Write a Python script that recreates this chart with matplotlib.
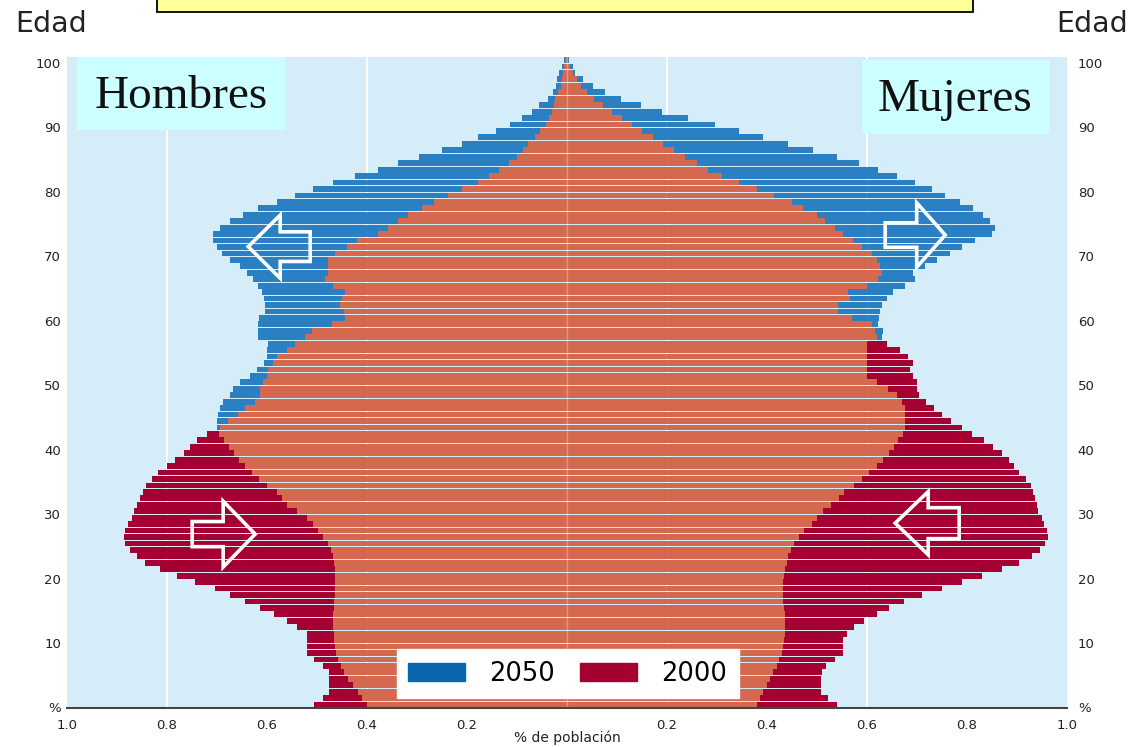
import numpy as np
import matplotlib
matplotlib.use('Agg')
import matplotlib.pyplot as plt
from matplotlib.patches import Rectangle, Polygon, Patch

# edades 0..100, % de poblacion por cada año de edad
edades = np.arange(0, 101)

hombres_2000 = [
    0.505, 0.487, 0.475, 0.475, 0.475, 0.475, 0.487, 0.505, 0.52, 0.52,
    0.52, 0.52, 0.54, 0.559, 0.586, 0.613, 0.643, 0.673, 0.703, 0.743,
    0.78, 0.813, 0.843, 0.86, 0.873, 0.883, 0.885, 0.883, 0.877, 0.87,
    0.865, 0.86, 0.853, 0.847, 0.841, 0.83, 0.817, 0.80, 0.783, 0.765,
    0.753, 0.74, 0.72, 0.693, 0.677, 0.657, 0.643, 0.623, 0.613, 0.613,
    0.607, 0.60, 0.597, 0.587, 0.58, 0.56, 0.543, 0.523, 0.51, 0.47,
    0.443, 0.445, 0.453, 0.45, 0.443, 0.467, 0.483, 0.477, 0.477, 0.477,
    0.463, 0.44, 0.42, 0.377, 0.357, 0.337, 0.317, 0.29, 0.265, 0.237,
    0.21, 0.178, 0.155, 0.135, 0.115, 0.10, 0.087, 0.078, 0.063, 0.053,
    0.042, 0.035, 0.03, 0.025, 0.023, 0.017, 0.012, 0.01, 0.007, 0.005,
    0.003,
]
hombres_2050 = [
    0.40, 0.41, 0.418, 0.428, 0.437, 0.445, 0.452, 0.457, 0.462, 0.464,
    0.465, 0.466, 0.467, 0.467, 0.467, 0.466, 0.465, 0.464, 0.463, 0.463,
    0.463, 0.463, 0.465, 0.467, 0.472, 0.477, 0.487, 0.497, 0.507, 0.52,
    0.54, 0.56, 0.57, 0.58, 0.60, 0.615, 0.63, 0.643, 0.655, 0.665,
    0.675, 0.685, 0.695, 0.70, 0.70, 0.697, 0.693, 0.687, 0.673, 0.667,
    0.653, 0.633, 0.62, 0.605, 0.60, 0.60, 0.597, 0.617, 0.617, 0.617,
    0.615, 0.603, 0.603, 0.605, 0.61, 0.617, 0.627, 0.64, 0.653, 0.673,
    0.69, 0.70, 0.707, 0.707, 0.693, 0.673, 0.648, 0.617, 0.58, 0.543,
    0.507, 0.467, 0.423, 0.377, 0.337, 0.295, 0.25, 0.21, 0.177, 0.142,
    0.113, 0.09, 0.07, 0.055, 0.038, 0.027, 0.021, 0.02, 0.015, 0.01,
    0.005,
]
mujeres_2000 = [
    0.54, 0.523, 0.508, 0.508, 0.508, 0.51, 0.519, 0.537, 0.552, 0.552,
    0.553, 0.56, 0.575, 0.595, 0.62, 0.645, 0.675, 0.71, 0.75, 0.79,
    0.83, 0.87, 0.905, 0.93, 0.947, 0.957, 0.963, 0.96, 0.955, 0.95,
    0.943, 0.94, 0.937, 0.933, 0.928, 0.918, 0.905, 0.895, 0.885, 0.87,
    0.852, 0.835, 0.81, 0.79, 0.768, 0.75, 0.735, 0.718, 0.705, 0.70,
    0.70, 0.693, 0.687, 0.693, 0.683, 0.667, 0.64, 0.62, 0.617, 0.61,
    0.57, 0.543, 0.543, 0.567, 0.563, 0.60, 0.623, 0.63, 0.627, 0.62,
    0.61, 0.59, 0.573, 0.553, 0.537, 0.517, 0.50, 0.473, 0.45, 0.415,
    0.38, 0.345, 0.31, 0.283, 0.26, 0.237, 0.215, 0.193, 0.172, 0.15,
    0.13, 0.11, 0.09, 0.072, 0.055, 0.04, 0.028, 0.02, 0.012, 0.006,
    0.003,
]
mujeres_2050 = [
    0.38, 0.387, 0.393, 0.40, 0.407, 0.413, 0.42, 0.425, 0.43, 0.433,
    0.435, 0.437, 0.437, 0.437, 0.436, 0.434, 0.433, 0.433, 0.433, 0.433,
    0.434, 0.436, 0.44, 0.443, 0.448, 0.455, 0.465, 0.475, 0.49, 0.50,
    0.513, 0.528, 0.545, 0.555, 0.575, 0.59, 0.605, 0.62, 0.633, 0.645,
    0.655, 0.663, 0.673, 0.677, 0.677, 0.677, 0.677, 0.67, 0.66, 0.643,
    0.62, 0.60, 0.60, 0.60, 0.60, 0.60, 0.60, 0.63, 0.633, 0.623,
    0.625, 0.627, 0.63, 0.64, 0.653, 0.677, 0.697, 0.693, 0.717, 0.74,
    0.767, 0.79, 0.817, 0.85, 0.857, 0.847, 0.833, 0.812, 0.787, 0.757,
    0.73, 0.697, 0.66, 0.623, 0.585, 0.54, 0.492, 0.443, 0.393, 0.345,
    0.297, 0.243, 0.19, 0.148, 0.108, 0.077, 0.052, 0.032, 0.017, 0.012,
    0.005,
]

etiquetas_x = ['1.0', '0.8', '0.6', '0.4', '0.2', '', '0.2', '0.4', '0.6', '0.8', '1.0']
etiquetas_y = ['%', '10', '20', '30', '40', '50', '60', '70', '80', '90', '100']

AZUL = '#2a80c3'
ROJO = '#a50032'
SALMON = '#d4694f'
FONDO = '#d4edf9'

W, H = 1132, 747
fig = plt.figure(figsize=(W / 100, H / 100), dpi=100)
fig.patch.set_facecolor('white')
ax = fig.add_axes([66.7 / W, 39.5 / H, 1000 / W, 651 / H])
ax.set_facecolor(FONDO)


def px(x, y):
    # pixeles de la imagen -> fraccion de figura
    return x / W, (H - y) / H


# lineas guia blancas
for xg in [-0.8, -0.4, 0.2, 0.6]:
    ax.axvline(xg, color='white', lw=1.4, zorder=0.5)

h2000 = np.array(hombres_2000)
h2050 = np.array(hombres_2050)
m2000 = np.array(mujeres_2000)
m2050 = np.array(mujeres_2050)

alto = 0.9
# 2000 debajo, 2050 encima, y la parte comun en salmon
ax.barh(edades, -h2000, height=alto, align='edge', color=ROJO, zorder=2)
ax.barh(edades, m2000, height=alto, align='edge', color=ROJO, zorder=2)
ax.barh(edades, -h2050, height=alto, align='edge', color=AZUL, zorder=3)
ax.barh(edades, m2050, height=alto, align='edge', color=AZUL, zorder=3)
ax.barh(edades, -np.minimum(h2000, h2050), height=alto, align='edge', color=SALMON, zorder=4)
ax.barh(edades, np.minimum(m2000, m2050), height=alto, align='edge', color=SALMON, zorder=4)
ax.axvline(0, color='white', lw=1, alpha=0.3, zorder=4.5)

ax.set_xlim(-1, 1)
ax.set_ylim(0, 101)
for s in ['top', 'left', 'right']:
    ax.spines[s].set_visible(False)
ax.spines['bottom'].set_color('#444444')
ax.spines['bottom'].set_linewidth(1.5)
ax.spines['bottom'].set_zorder(6)

ax.set_xticks(np.linspace(-1, 1, 11))
ax.set_xticklabels(etiquetas_x)
ax.set_yticks(np.arange(0, 101, 10))
ax.set_yticklabels(etiquetas_y)
ax.tick_params(axis='both', length=0, labelsize=9.5, labelcolor='#222222')
ax.tick_params(axis='x', pad=8)
ax.tick_params(axis='y', pad=4)

ax2 = ax.twinx()
ax2.set_ylim(ax.get_ylim())
ax2.set_yticks(np.arange(0, 101, 10))
ax2.set_yticklabels(etiquetas_y)
ax2.tick_params(axis='y', length=0, labelsize=9.5, labelcolor='#222222', pad=8)
for s in ax2.spines.values():
    s.set_visible(False)

fig.text(*px(567, 738), '% de población', ha='center', va='center',
         fontsize=10, color='#222222')

# flechas huecas
def flecha(xt, yc, d, hl, sl, hh, sh):
    xb = xt - d * hl
    xs = xb - d * sl
    pts = [(xt, yc), (xb, yc + hh), (xb, yc + sh), (xs, yc + sh),
           (xs, yc - sh), (xb, yc - sh), (xb, yc - hh)]
    ax.add_patch(Polygon(pts, closed=True, fill=False, edgecolor='white',
                         lw=2.6, joinstyle='miter', zorder=7))


flecha(-0.637, 71.5, -1, 0.064, 0.06, 4.9, 2.3)
flecha(0.757, 73.3, 1, 0.057, 0.063, 5.0, 1.9)
flecha(-0.623, 26.9, 1, 0.064, 0.062, 5.1, 1.95)
flecha(0.657, 28.6, -1, 0.066, 0.062, 4.9, 2.4)

leg = ax.legend(handles=[Patch(color='#0a66ad', label='2050'), Patch(color=ROJO, label='2000')],
                loc='center', bbox_to_anchor=(0.501, 0.052), ncol=2, fontsize=18.5,
                frameon=True, fancybox=False, framealpha=1, edgecolor='white',
                handlelength=2.2, handleheight=0.7, handletextpad=0.95,
                columnspacing=1.0, borderpad=0.45)
leg.set_zorder(8)

# cajas de Hombres / Mujeres
x0, y0 = px(77, 130)
fig.add_artist(Rectangle((x0, y0), 208 / W, 73 / H, transform=fig.transFigure,
                         facecolor='#ccffff', edgecolor='none', zorder=3))
fig.text(*px(181, 97), 'Hombres', family='Liberation Serif', fontsize=34,
         ha='center', va='center', color='#111111', zorder=4)
x0, y0 = px(862, 134)
fig.add_artist(Rectangle((x0, y0), 188 / W, 74 / H, transform=fig.transFigure,
                         facecolor='#ccffff', edgecolor='none', zorder=3))
fig.text(*px(955, 100), 'Mujeres', family='Liberation Serif', fontsize=34,
         ha='center', va='center', color='#111111', zorder=4)

fig.text(*px(51, 24), 'Edad', fontsize=20.5, ha='center', va='center', color='#222222')
fig.text(*px(1092, 24), 'Edad', fontsize=20.5, ha='center', va='center', color='#222222')

# caja amarilla del titulo (cortada)
x0, y0 = px(157, 12)
fig.add_artist(Rectangle((x0, y0), 816 / W, 0.05, transform=fig.transFigure,
                         facecolor='#ffff99', edgecolor='black', lw=1.3, clip_on=False))

fig.savefig('out.png', dpi=100)
